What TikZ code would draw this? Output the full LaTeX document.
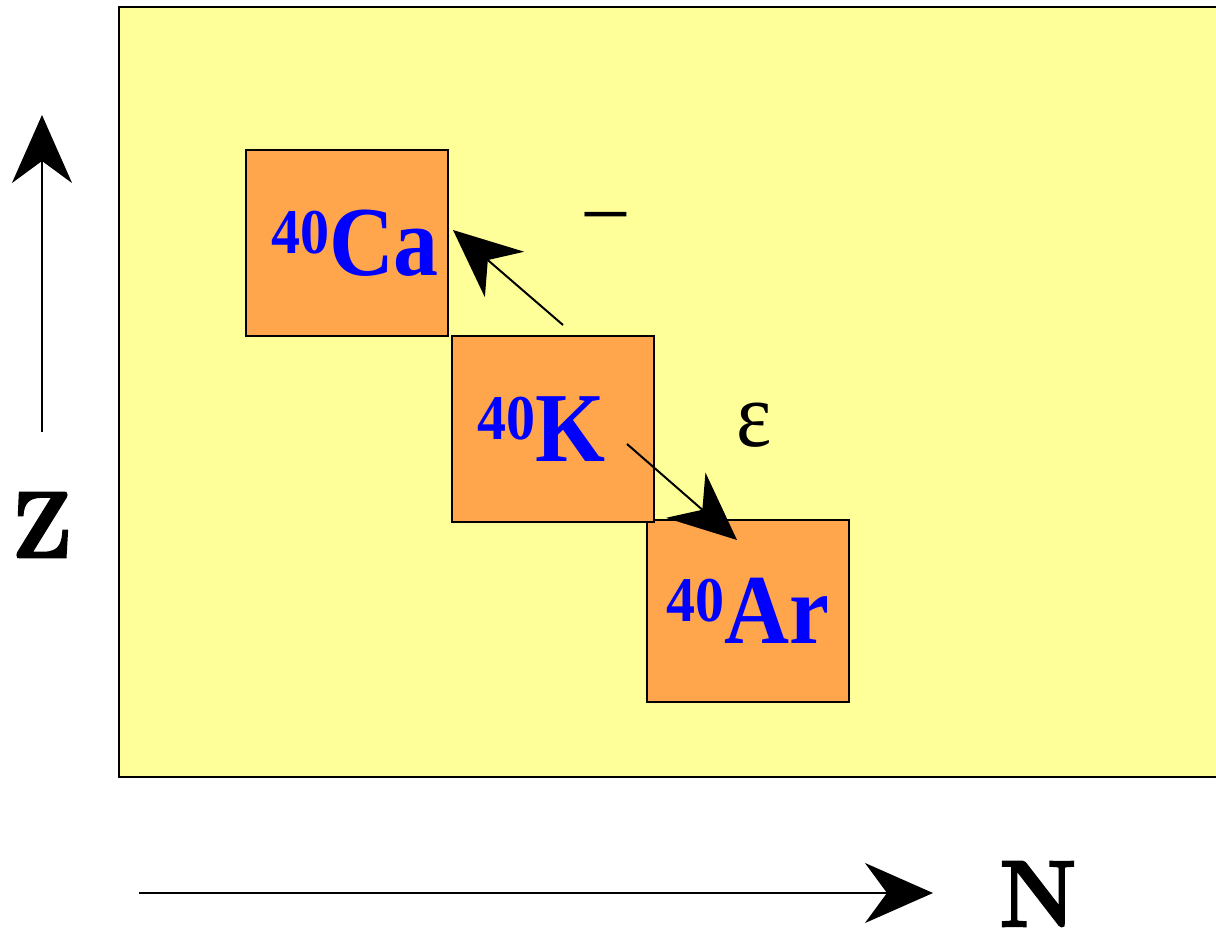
\documentclass[tikz,border=0pt]{standalone}
\usepackage{graphicx}
\usepackage{fontspec}
\newfontfamily\timesfont{Liberation Serif}
\newfontfamily\lmbold[Extension=.otf, FakeBold=2]{lmroman10-bold}
\usetikzlibrary{arrows.meta, positioning, math}
\definecolor{chartyellow}{RGB}{255,255,153}
\definecolor{nucorange}{RGB}{255,166,77}
% mass number raised in front of the symbol, text a bit stretched upward
\newcommand{\nuclide}[2]{\scalebox{1}[1.1]{\raisebox{10pt}{\fontsize{29}{29}\selectfont #1}#2}}
\newcommand{\tall}[1]{\scalebox{1}[1.1]{#1}}

\tikzset{
  nucbox/.style={draw, line width=1pt, fill=nucorange, minimum width=101pt,
    minimum height=93pt, inner sep=0pt, text=blue,
    font=\timesfont\bfseries\fontsize{45}{45}\selectfont},
  bigtip/.style={-{Stealth[length=34pt, width=30pt, inset=11pt]}, line width=1pt},
  axislabel/.style={inner sep=0pt, font=\lmbold\fontsize{43}{43}\selectfont}
}

\begin{document}
\begin{tikzpicture}[x=0.5pt, y=-0.5pt]
\useasboundingbox (0,0) rectangle (1216,930);

% chart
\draw[line width=1pt, fill=chartyellow] (119,7) rectangle (1240,777);

\node[nucbox] (Ca) at (347,243.5) {\hspace*{8pt}\nuclide{40}{Ca}};
\node[nucbox, minimum height=91pt] (Ar) at (748,611) {\nuclide{40}{Ar}};
\node[nucbox] (K) at (553,429) {\hspace*{-12pt}\nuclide{40}{K}};

% decays
\coordinate (betafoot) at (563,325);
\coordinate (betatip) at (453,230);
\coordinate (ecfoot) at (627,444);
\coordinate (ectip) at (737,540);
\draw[bigtip] (betafoot) -- (betatip);
\draw[bigtip] (ecfoot) -- (ectip);

\node (minus) at (606,228) {\timesfont\fontsize{45}{45}\selectfont −};
\node (eps) at (754,425) {\timesfont\fontsize{42}{42}\selectfont\tall{ε}};

% axes
\coordinate (zfoot) at (42,432);
\coordinate (ztip) at (42,115);
\draw[bigtip] (zfoot) -- (ztip);
\node[axislabel] (zlabel) at (42,525) {\tall{Z}};

\coordinate (nfoot) at (139,893);
\coordinate (ntip) at (933,893);
\draw[bigtip] (nfoot) -- (ntip);
\node[axislabel] (nlabel) at (1038,894) {\tall{N}};

\end{tikzpicture}
\end{document}
